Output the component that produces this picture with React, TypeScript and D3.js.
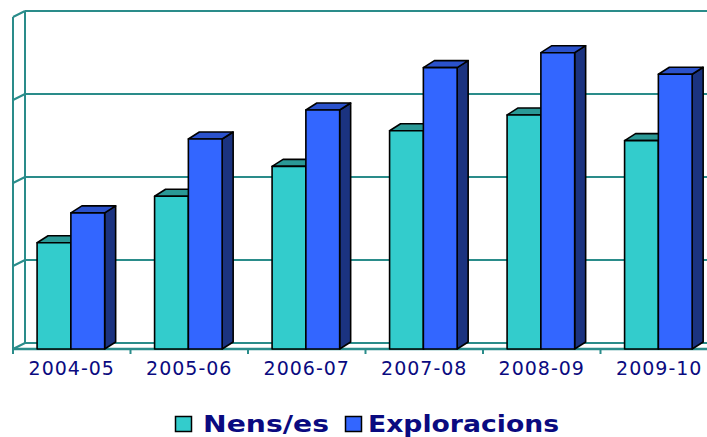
import React from "react";
import * as d3 from "d3";

// school years on the x axis
const categories = ["2004-05", "2005-06", "2006-07", "2007-08", "2008-09", "2009-10"];
const seriesNames = ["Nens/es", "Exploracions"];
// values (gridline step = 100)
const nens = [128, 184, 220, 263, 282, 251];
const exploracions = [164, 253, 288, 339, 357, 331];
const yTicks = [0, 100, 200, 300, 400];

const colors = {
  "Nens/es": { front: "#33CCCC", top: "#2A9996", side: "#1F6E6E" },
  Exploracions: { front: "#3366FF", top: "#2B52CC", side: "#1B3380" },
};

const grid = "#2A8C8A";
const navy = "#0A0A80";

const App = () => {
  const width = 707;
  const height = 437;
  const floorY = 349;
  const topY = 17;
  const left = 13;
  const wallDx = 12;
  const wallDy = -6;
  const barDx = 11;
  const barDy = -7;

  const x = d3.scaleBand<string>().domain(categories).range([left, left + 117.5 * 6]);
  const bw = x.bandwidth();
  const x1 = d3.scaleBand<string>().domain(seriesNames).range([bw * 0.205, bw * 0.78]);
  const y = d3.scaleLinear().domain([0, 400]).range([floorY, topY]);

  const rows = categories.map((c, i) => ({ c, vals: [nens[i], exploracions[i]] }));

  return (
    <svg width={width} height={height} style={{ position: "absolute", left: 0, top: 0 }}>
      <rect width={width} height={height} fill="#fff" />
      {/* side wall */}
      <line x1={left} y1={y(0)} x2={left} y2={y(400)} stroke={grid} strokeWidth={2} />
      <line x1={left + wallDx} y1={y(0) + wallDy} x2={left + wallDx} y2={y(400) + wallDy} stroke={grid} strokeWidth={2} />
      {yTicks.map((t) => (
        <g key={t}>
          <line x1={left} y1={y(t)} x2={left + wallDx} y2={y(t) + wallDy} stroke={grid} strokeWidth={2} />
          <line x1={left + wallDx} y1={y(t) + wallDy} x2={width} y2={y(t) + wallDy} stroke={grid} strokeWidth={2} />
        </g>
      ))}
      {/* floor front edge + ticks */}
      <line x1={left} y1={floorY} x2={width} y2={floorY} stroke={grid} strokeWidth={2.5} />
      {categories.map((c) => (
        <line key={c} x1={x(c)!} y1={floorY} x2={x(c)!} y2={floorY + 5} stroke={grid} strokeWidth={2} />
      ))}
      {/* bars */}
      {rows.map((r) => (
        <g key={r.c}>
          {seriesNames.map((s, j) => {
            const x0 = x(r.c)! + x1(s)!;
            const w = x1.bandwidth();
            const yt = y(r.vals[j]);
            const col = colors[s as keyof typeof colors];
            return (
              <g key={s} stroke="#000" strokeWidth={1.6} strokeLinejoin="round">
                <path
                  d={`M${x0 + w},${floorY} L${x0 + w + barDx},${floorY + barDy} L${x0 + w + barDx},${yt + barDy} L${x0 + w},${yt} Z`}
                  fill={col.side}
                />
                <path
                  d={`M${x0},${yt} L${x0 + barDx},${yt + barDy} L${x0 + w + barDx},${yt + barDy} L${x0 + w},${yt} Z`}
                  fill={col.top}
                />
                <rect x={x0} y={yt} width={w} height={floorY - yt} fill={col.front} />
              </g>
            );
          })}
        </g>
      ))}
      {/* category labels */}
      {categories.map((c) => (
        <text
          key={c}
          x={x(c)! + bw / 2}
          y={375}
          textAnchor="middle"
          fontFamily="DejaVu Sans, Verdana, sans-serif"
          fontSize={19}
          letterSpacing={1}
          fill={navy}
        >
          {c}
        </text>
      ))}
      {/* legend */}
      <rect x={175.5} y={416.5} width={16} height={15} fill={colors["Nens/es"].front} stroke="#000" strokeWidth={1.5} />
      <text x={203} y={432} fontFamily="DejaVu Sans, Verdana, sans-serif" fontWeight="bold" fontSize={23} fill={navy} textLength={126} lengthAdjust="spacingAndGlyphs">
        Nens/es
      </text>
      <rect x={345.5} y={416.5} width={16} height={15} fill={colors.Exploracions.front} stroke="#000" strokeWidth={1.5} />
      <text x={368} y={432} fontFamily="DejaVu Sans, Verdana, sans-serif" fontWeight="bold" fontSize={23} fill={navy} textLength={191} lengthAdjust="spacingAndGlyphs">
        Exploracions
      </text>
    </svg>
  );
};

export default App;
